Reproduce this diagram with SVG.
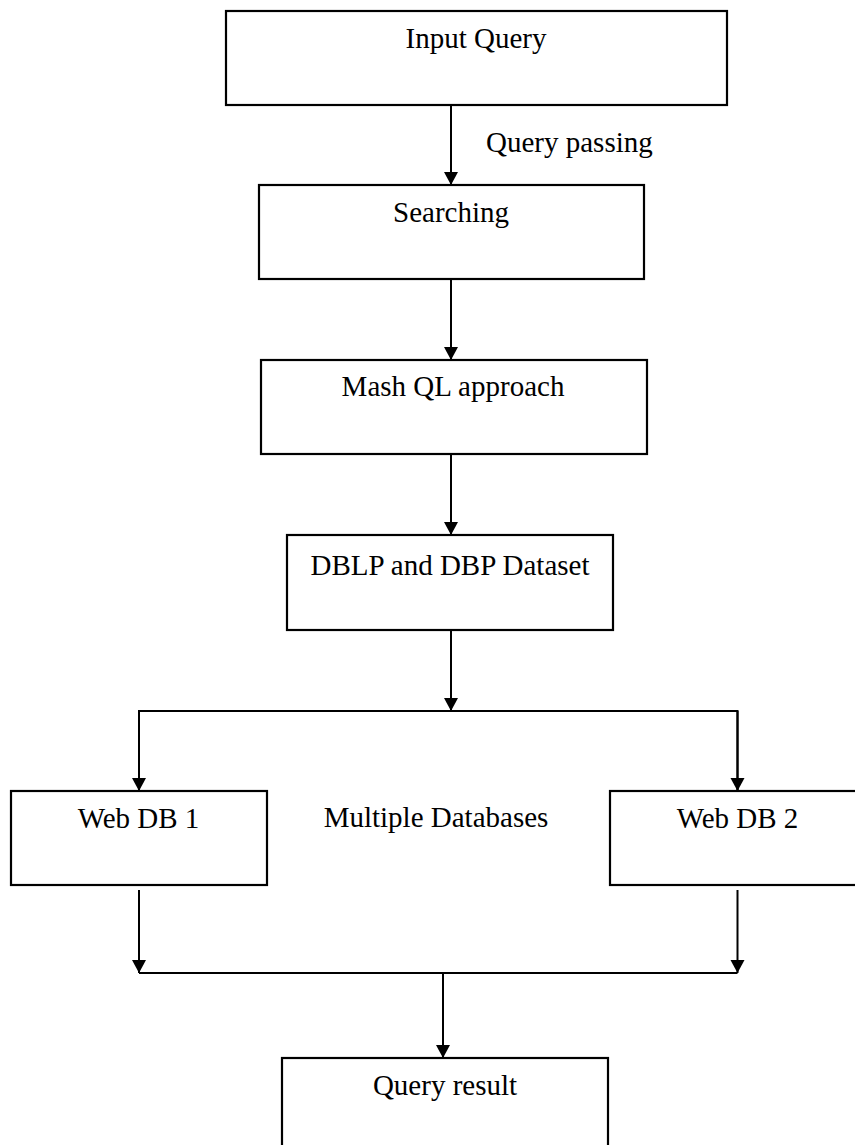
<svg xmlns="http://www.w3.org/2000/svg" width="855" height="1145" viewBox="0 0 855 1145">
<style>
.box{fill:#fff;stroke:#000;stroke-width:2.2}
.ln{fill:none;stroke:#000;stroke-width:2}
.t{font-family:"Liberation Serif","Times New Roman",serif;font-size:29px;fill:#000}
.c{text-anchor:middle}
</style>
<defs>
<marker id="ah" markerUnits="userSpaceOnUse" markerWidth="14" markerHeight="16" viewBox="0 0 14 16" refX="13" refY="7" orient="auto">
<path d="M0,0 L13,7 L0,14 Z" fill="#000"/>
</marker>
</defs>
<rect width="855" height="1145" fill="#fff"/>
<g id="connectors">
<line class="ln" x1="451" y1="105" x2="451" y2="185" marker-end="url(#ah)"/>
<line class="ln" x1="451" y1="279" x2="451" y2="360" marker-end="url(#ah)"/>
<line class="ln" x1="451" y1="454" x2="451" y2="535" marker-end="url(#ah)"/>
<line class="ln" x1="451" y1="630" x2="451" y2="711" marker-end="url(#ah)"/>
<polyline class="ln" points="139,790.5 139,711 737.5,711 737.5,790.5"/>
<line class="ln" x1="139" y1="711" x2="139" y2="791" marker-end="url(#ah)"/>
<line class="ln" x1="737.5" y1="711" x2="737.5" y2="791" marker-end="url(#ah)"/>
<line class="ln" x1="139" y1="890" x2="139" y2="973" marker-end="url(#ah)"/>
<line class="ln" x1="737.5" y1="890" x2="737.5" y2="973" marker-end="url(#ah)"/>
<line class="ln" x1="139" y1="973" x2="737.5" y2="973"/>
<line class="ln" x1="443" y1="973" x2="443" y2="1058" marker-end="url(#ah)"/>
</g>
<g id="input-query">
<rect class="box" x="226" y="11" width="501" height="94"/>
<text class="t c" x="476" y="48">Input Query</text>
</g>
<text id="query-passing" class="t" x="486" y="152">Query passing</text>
<g id="searching">
<rect class="box" x="259" y="185" width="385" height="94"/>
<text class="t c" x="451" y="222">Searching</text>
</g>
<g id="mashql">
<rect class="box" x="261" y="360" width="386" height="94"/>
<text class="t c" x="453" y="396">Mash QL approach</text>
</g>
<g id="dblp">
<rect class="box" x="287" y="535" width="326" height="95"/>
<text class="t c" x="450" y="575">DBLP and DBP Dataset</text>
</g>
<g id="webdb1">
<rect class="box" x="11" y="791" width="256" height="94"/>
<text class="t c" x="138.5" y="828">Web DB 1</text>
</g>
<text id="multiple-databases" class="t c" x="436" y="827">Multiple Databases</text>
<g id="webdb2">
<rect class="box" x="610" y="791" width="260" height="94"/>
<text class="t c" x="737.5" y="828">Web DB 2</text>
</g>
<g id="query-result">
<rect class="box" x="282" y="1058" width="326" height="100"/>
<text class="t c" x="445" y="1095">Query result</text>
</g>
</svg>
